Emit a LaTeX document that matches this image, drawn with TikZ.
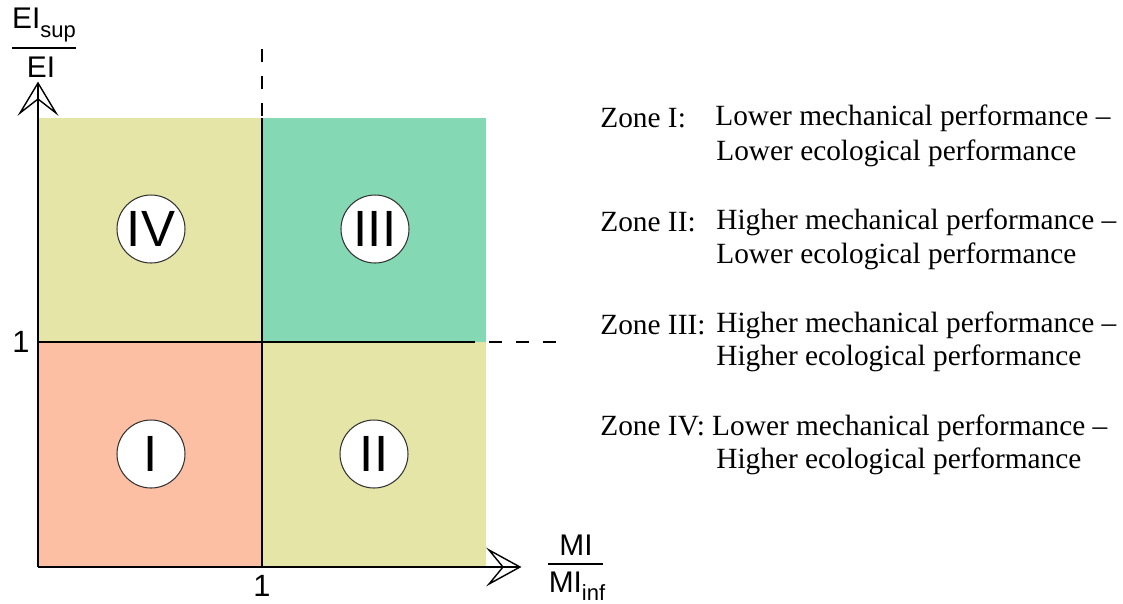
\documentclass[tikz,border=0pt]{standalone}
\usepackage{fontspec}
\setsansfont{Liberation Sans}
\setmainfont{Liberation Serif}
\definecolor{cyellow}{HTML}{E5E5A8}
\definecolor{cgreen}{HTML}{84D9B4}
\definecolor{csalmon}{HTML}{FDBFA3}
\tikzset{
  divline/.style={line width=1.1pt, black},
  axisline/.style={line width=0.8pt, black},
  dashline/.style={line width=1.1pt, black, dash pattern=on 0.26cm off 0.28cm},
  zonecirc/.style={circle, draw=black!80, line width=0.6pt, fill=white, minimum size=1.36cm, inner sep=0pt, font=\sffamily\fontsize{29}{29}\selectfont},
  ticklab/.style={inner sep=0pt, font=\sffamily\fontsize{17.5}{17.5}\selectfont},
  fraclab/.style={inner sep=0pt, font=\sffamily\fontsize{17}{17}\selectfont},
  desc/.style={anchor=west, inner sep=0pt, font=\fontsize{16.7}{20}\selectfont},
}
\newcommand{\subtxt}[1]{\raisebox{-0.28em}{\fontsize{12.5}{12.5}\selectfont #1}}
\begin{document}
\begin{tikzpicture}[x=0.02cm, y=-0.02cm]
\useasboundingbox (0,0) rectangle (1123,603);
% quadrants
\fill[cyellow] (38,118) rectangle (262,342);
\fill[cgreen] (262,118) rectangle (486,342);
\fill[csalmon] (38,342) rectangle (262,567);
\fill[cyellow] (262,342) rectangle (486,567);
% division lines
\coordinate (vtop) at (262,118);
\coordinate (vbot) at (262,567);
\coordinate (vdash) at (262,48);
\coordinate (hleft) at (38,342);
\coordinate (hend) at (475,342);
\coordinate (hdashs) at (489,342);
\coordinate (hdashe) at (557,342);
\draw[divline] (vtop) -- (vbot);
\draw[divline] (hleft) -- (hend);
\draw[dashline] (262,116) -- (vdash);
\draw[dashline] (hdashs) -- (hdashe);
% axes
\coordinate (O) at (38,567);
\coordinate (ytip) at (38,83);
\coordinate (xtip) at (520,567);
\draw[axisline] (O) -- (ytip);
\draw[axisline] (O) -- (xtip);
\draw[axisline, line join=miter] (ytip) -- ++(-18,30) -- ++(18,-14) -- ++(18,14) -- cycle;
\draw[axisline, line join=miter] (xtip) -- ++(-31,-17) -- ++(14,17) -- ++(-14,17) -- cycle;
% ticks
\node[ticklab] (t1y) at (21,342) {1};
\node[ticklab] (t1x) at (262,586) {1};
% axis fractions
\node[fraclab] (ynum) at (44,25) {EI\subtxt{sup}};
\coordinate (yfl) at (12,48);
\coordinate (yfr) at (76,48);
\draw[line width=0.8pt] (yfl) -- (yfr);
\node[fraclab] (yden) at (41,67) {EI};
\node[fraclab] (xnum) at (576,545) {MI};
\coordinate (xfl) at (548,564);
\coordinate (xfr) at (603,564);
\draw[line width=0.8pt] (xfl) -- (xfr);
\node[fraclab] (xden) at (577,586) {MI\subtxt{inf}};
% zone circles
\node[zonecirc] (cIV) at (151,229) {IV};
\node[zonecirc] (cIII) at (375,229) {III};
\node[zonecirc] (cI) at (151,454) {I};
\node[zonecirc] (cII) at (374,454) {II};
% descriptions
\node[desc] (z1a) at (600,118) {Zone I:};
\node[desc] (z1b) at (715,118) {Lower mechanical performance --};
\node[desc] (z1c) at (716,153) {Lower ecological performance};
\node[desc] (z2a) at (600,222) {Zone II:};
\node[desc] (z2b) at (716,222) {Higher mechanical performance --};
\node[desc] (z2c) at (716,256) {Lower ecological performance};
\node[desc] (z3a) at (600,325) {Zone III:};
\node[desc] (z3b) at (716,325) {Higher mechanical performance --};
\node[desc] (z3c) at (716,358) {Higher ecological performance};
\node[desc] (z4a) at (600,428) {Zone IV: Lower mechanical performance --};
\node[desc] (z4c) at (716,461) {Higher ecological performance};
\end{tikzpicture}
\end{document}
